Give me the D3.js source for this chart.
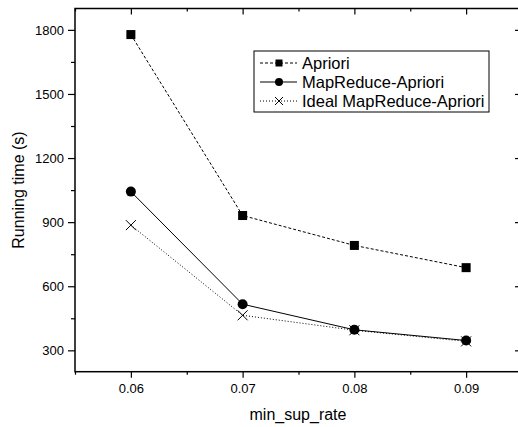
<!DOCTYPE html>
<html><head><meta charset="utf-8">
<script src="https://cdn.jsdelivr.net/npm/d3@7"></script>
<style>body{margin:0;background:#fff}svg{display:block;font-family:"Liberation Sans",Arial,sans-serif}</style>
</head><body><svg id="c" width="518" height="427"></svg>
<script>
const xValues = [0.06, 0.07, 0.08, 0.09];
const apriori = [1778, 931, 791, 687];
const mapReduce = [1043, 516, 396, 346];
const ideal = [886, 464, 394, 342];
const xTicks = [0.06, 0.07, 0.08, 0.09];
const xMinor = [0.055, 0.065, 0.075, 0.085, 0.095];
const yTicks = [300, 600, 900, 1200, 1500, 1800];
const yMinor = [450, 750, 1050, 1350, 1650];
const seriesNames = ["Apriori", "MapReduce-Apriori", "Ideal MapReduce-Apriori"];

const svg = d3.select("#c");
const L = 75, R = 522, T = 8.5, B = 371.7;
const x = d3.scaleLinear().domain([0.055, 0.095]).range([L, R]);
const y = d3.scaleLinear().domain([200, 1900]).range([B, T]);

// frame
svg.append("rect").attr("x", L).attr("y", T).attr("width", R - L).attr("height", B - T)
  .attr("fill", "none").attr("stroke", "#000").attr("stroke-width", 1.5);

const fmtX = d3.format(".2f");
// bottom axis
const gb = svg.append("g").attr("transform", `translate(0,${B})`)
  .call(d3.axisBottom(x).tickValues(xTicks).tickFormat(fmtX).tickSize(6).tickPadding(6));
gb.select(".domain").remove();
gb.selectAll("text").attr("font-size", 13).attr("font-family", "Liberation Sans, Arial, sans-serif");
svg.append("g").attr("transform", `translate(0,${B})`)
  .call(d3.axisBottom(x).tickValues(xMinor).tickFormat("").tickSize(3)).select(".domain").remove();
// top axis inward
svg.append("g").attr("transform", `translate(0,${T})`)
  .call(d3.axisBottom(x).tickValues(xTicks).tickFormat("").tickSize(6)).select(".domain").remove();
svg.append("g").attr("transform", `translate(0,${T})`)
  .call(d3.axisBottom(x).tickValues(xMinor).tickFormat("").tickSize(3)).select(".domain").remove();
// left axis
const gl = svg.append("g").attr("transform", `translate(${L},0)`)
  .call(d3.axisLeft(y).tickValues(yTicks).tickFormat(d3.format("d")).tickSize(7).tickPadding(4));
gl.select(".domain").remove();
gl.selectAll("text").attr("font-size", 13).attr("font-family", "Liberation Sans, Arial, sans-serif");
svg.append("g").attr("transform", `translate(${L},0)`)
  .call(d3.axisLeft(y).tickValues(yMinor).tickFormat("").tickSize(4)).select(".domain").remove();
// right axis inward
svg.append("g").attr("transform", `translate(${R},0)`)
  .call(d3.axisRight(y).tickValues(yTicks).tickFormat("").tickSize(-7)).select(".domain").remove();
svg.append("g").attr("transform", `translate(${R},0)`)
  .call(d3.axisRight(y).tickValues(yMinor).tickFormat("").tickSize(-4)).select(".domain").remove();
svg.selectAll(".tick line").attr("stroke", "#000").attr("stroke-width", 1.2);

// labels
svg.append("text").attr("x", 298).attr("y", 420).attr("text-anchor", "middle")
  .attr("font-size", 16).text("min_sup_rate");
svg.append("text").attr("transform", "translate(24,190) rotate(-90)").attr("text-anchor", "middle")
  .attr("font-size", 16).text("Running time (s)");

const line = d3.line().x((d, i) => x(xValues[i])).y(d => y(d));
const styles = [
  {data: apriori, dash: "3,2", w: 1},
  {data: mapReduce, dash: null, w: 1},
  {data: ideal, dash: "1,2", w: 1}
];
styles.forEach(s => {
  svg.append("path").attr("d", line(s.data)).attr("fill", "none").attr("stroke", "#000")
    .attr("stroke-width", s.w).attr("stroke-dasharray", s.dash);
});
function square(g, cx, cy, r) {
  g.append("rect").attr("x", cx - r).attr("y", cy - r).attr("width", 2 * r).attr("height", 2 * r).attr("fill", "#000");
}
function circle(g, cx, cy, r) {
  g.append("circle").attr("cx", cx).attr("cy", cy).attr("r", r).attr("fill", "#000");
}
function cross(g, cx, cy, r) {
  g.append("path").attr("d", `M${cx - r},${cy - r}L${cx + r},${cy + r}M${cx - r},${cy + r}L${cx + r},${cy - r}`)
    .attr("stroke", "#000").attr("stroke-width", 1).attr("fill", "none");
}
ideal.forEach((v, i) => cross(svg, x(xValues[i]), y(v), 5));
apriori.forEach((v, i) => square(svg, x(xValues[i]), y(v), 4.5));
mapReduce.forEach((v, i) => circle(svg, x(xValues[i]), y(v), 5));

// legend
const lg = svg.append("g");
lg.append("rect").attr("x", 254).attr("y", 51).attr("width", 235).attr("height", 61)
  .attr("fill", "#fff").attr("stroke", "#000").attr("stroke-width", 1);
const ly = [63, 82, 101];
const markers = [square, circle, cross];
const mSizes = [3.5, 4, 4];
styles.forEach((s, i) => {
  lg.append("line").attr("x1", 260).attr("x2", 297).attr("y1", ly[i]).attr("y2", ly[i])
    .attr("stroke", "#000").attr("stroke-width", 1).attr("stroke-dasharray", s.dash);
  markers[i](lg, 279, ly[i], mSizes[i]);
  lg.append("text").attr("x", 302).attr("y", ly[i] + 6).attr("font-size", 16.5).text(seriesNames[i]);
});
</script></body></html>
